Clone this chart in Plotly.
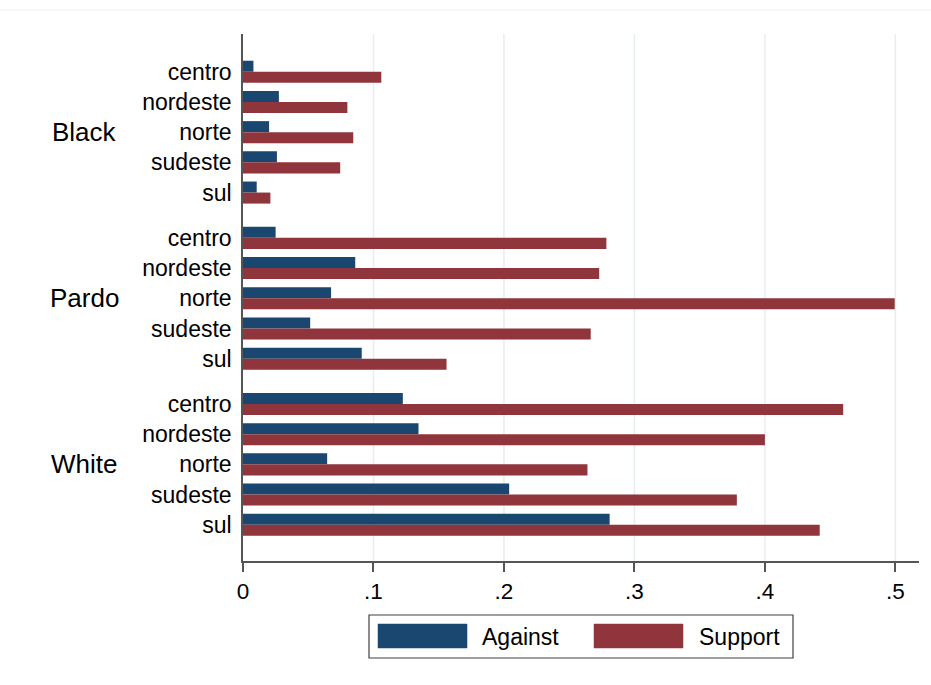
import plotly.graph_objects as go

# Share of respondents against / supporting, by race and region
groups = ["Black", "Pardo", "White"]
regions = ["centro", "nordeste", "norte", "sudeste", "sul"]
against = {
    "Black": [0.008, 0.0275, 0.020, 0.026, 0.0105],
    "Pardo": [0.025, 0.086, 0.0675, 0.0515, 0.091],
    "White": [0.1225, 0.1345, 0.0645, 0.204, 0.281],
}
support = {
    "Black": [0.106, 0.080, 0.0845, 0.0745, 0.021],
    "Pardo": [0.2785, 0.273, 0.4995, 0.2665, 0.156],
    "White": [0.460, 0.400, 0.264, 0.3785, 0.442],
}
series_names = ["Against", "Support"]
x_ticks = [0, 0.1, 0.2, 0.3, 0.4, 0.5]
x_tick_labels = ["0", ".1", ".2", ".3", ".4", ".5"]

NAVY = "#1a476f"
MAROON = "#90353b"
FONT = "Liberation Sans, Arial, sans-serif"

W, H = 931, 685
L, R, T, B = 243, 12, 34, 124
GROUP_STEP = 5.5  # rows between the starts of consecutive groups

# y positions: one row per region, with a gap between race groups
ypos, ylab = [], []
for gi, g in enumerate(groups):
    for ri, r in enumerate(regions):
        ypos.append(gi * GROUP_STEP + ri)
        ylab.append(r)

x_against = [v for g in groups for v in against[g]]
x_support = [v for g in groups for v in support[g]]

fig = go.Figure()
fig.add_trace(go.Bar(y=ypos, x=x_against, orientation="h", name=series_names[0],
                     marker=dict(color=NAVY, line=dict(width=0))))
fig.add_trace(go.Bar(y=ypos, x=x_support, orientation="h", name=series_names[1],
                     marker=dict(color=MAROON, line=dict(width=0))))

last = ypos[-1]
fig.update_layout(
    width=W, height=H,
    margin=dict(l=L, r=R, t=T, b=B),
    paper_bgcolor="white", plot_bgcolor="white",
    barmode="group", bargap=0.27, bargroupgap=0,
    showlegend=False,
    font=dict(family=FONT, color="black"),
    xaxis=dict(
        range=[0, 0.5181], tickvals=x_ticks, ticktext=x_tick_labels,
        ticks="outside", ticklen=9, tickwidth=1.5, tickcolor="#555555",
        tickfont=dict(size=22.5, family=FONT, color="black"),
        showline=True, linecolor="#555555", linewidth=1.5,
        showgrid=False, zeroline=False,
    ),
    yaxis=dict(
        range=[last + 1.2, -1.25], tickvals=ypos, ticktext=ylab,
        ticks="outside", ticklen=5, tickcolor="rgba(0,0,0,0)",
        tickfont=dict(size=23, family=FONT, color="black"),
        showline=True, linecolor="#555555", linewidth=1.5,
        showgrid=False, zeroline=False,
    ),
)

# light vertical gridlines behind the bars
for v in x_ticks[1:]:
    fig.add_shape(type="line", xref="x", yref="paper", x0=v, x1=v, y0=0, y1=1,
                  line=dict(color="#e6eef1", width=1.5), layer="below")

# race group labels, centred on each group's middle row
pw = W - L - R
ph = H - T - B


def px_x(px):
    return (px - L) / pw


def px_y(py):
    return (H - B - py) / ph


for gi, g in enumerate(groups):
    fig.add_annotation(x=px_x(84), xref="paper", y=gi * GROUP_STEP + 2, yref="y",
                       text=g, showarrow=False, xanchor="center", yanchor="middle",
                       font=dict(size=26, family=FONT, color="black"))

# legend box drawn below the axis
fig.add_shape(type="rect", xref="paper", yref="paper",
              x0=px_x(369), x1=px_x(793), y0=px_y(658), y1=px_y(615),
              line=dict(color="#404040", width=1.2), fillcolor="white")
legend_items = [(series_names[0], NAVY, 378, 480), (series_names[1], MAROON, 594, 697)]
for name, col, sx, tx in legend_items:
    fig.add_shape(type="rect", xref="paper", yref="paper",
                  x0=px_x(sx), x1=px_x(sx + 89), y0=px_y(648), y1=px_y(624),
                  line=dict(color=col, width=0.5), fillcolor=col)
    fig.add_annotation(x=px_x(tx), xref="paper", y=px_y(637), yref="paper",
                       text=name, showarrow=False, xanchor="left", yanchor="middle",
                       font=dict(size=23, family=FONT, color="black"))

# faint outer border line along the top
fig.add_shape(type="line", xref="paper", yref="paper", x0=px_x(0), x1=px_x(W),
              y0=px_y(10), y1=px_y(10), line=dict(color="#f2f2f2", width=1))

fig.write_html("out.html")
